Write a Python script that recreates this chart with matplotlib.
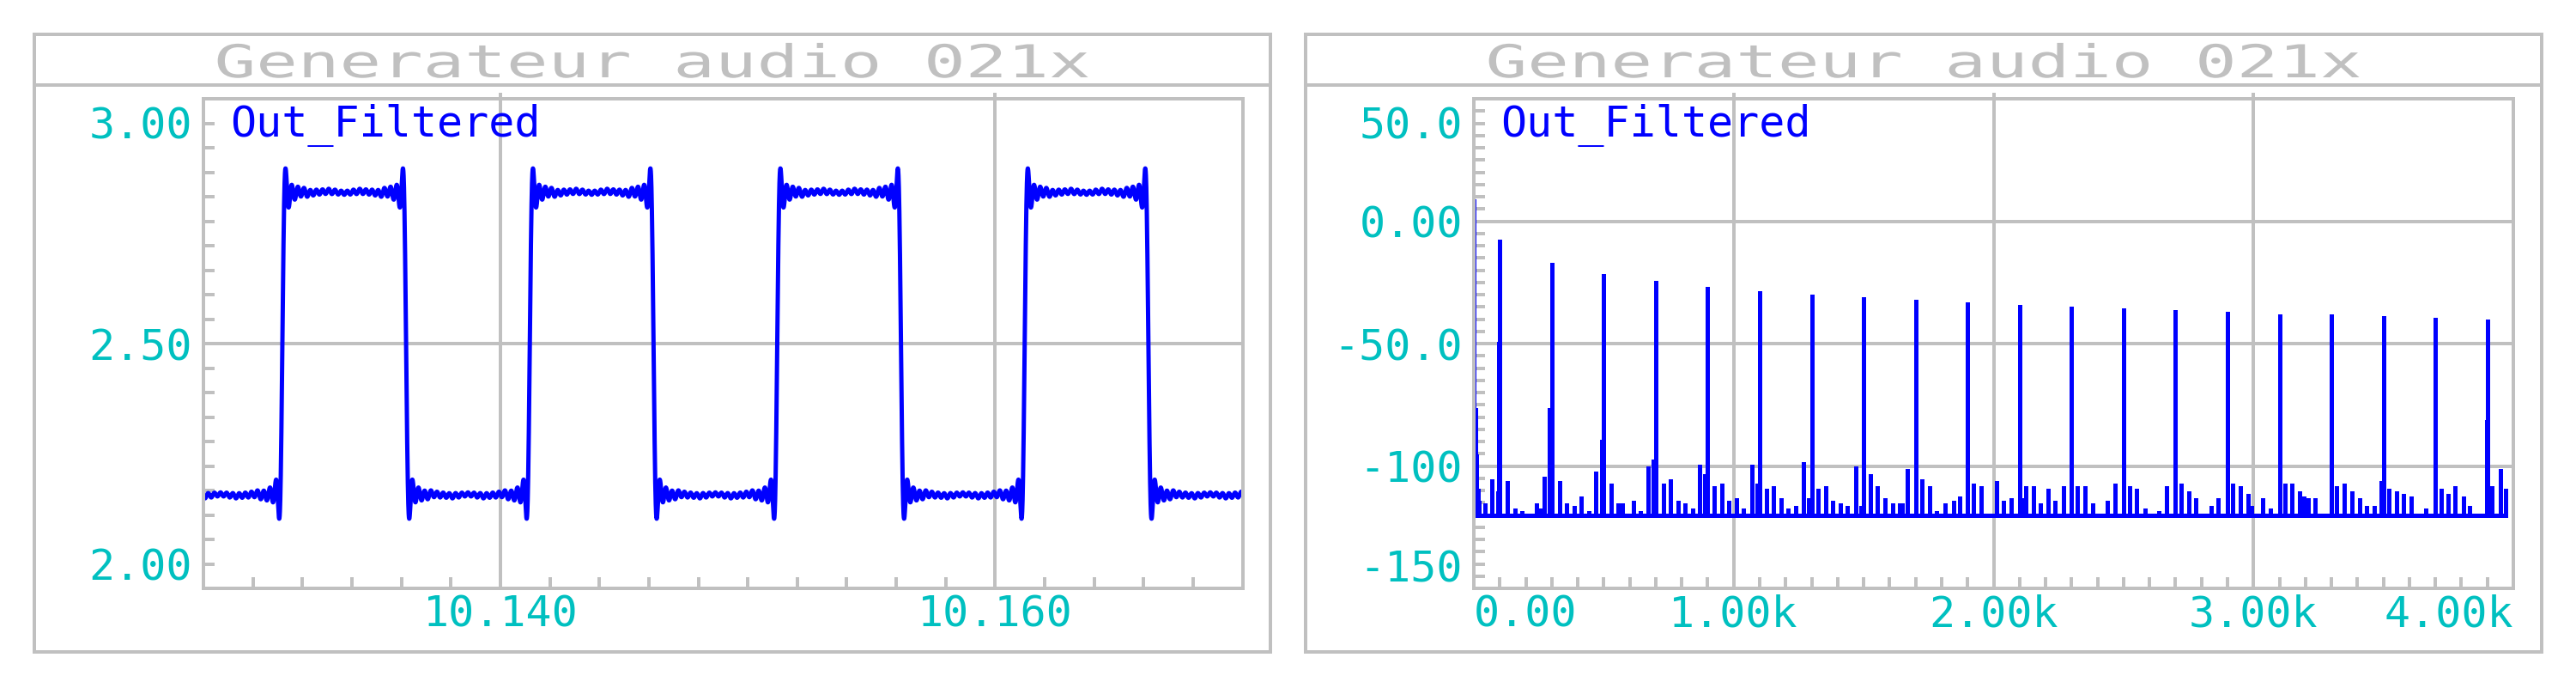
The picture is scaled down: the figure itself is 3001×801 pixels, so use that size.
import numpy as np
import matplotlib
matplotlib.use('Agg')
import matplotlib.pyplot as plt
from matplotlib.patches import Rectangle
from matplotlib.lines import Line2D
from matplotlib.ticker import MultipleLocator
from matplotlib.transforms import Affine2D, ScaledTranslation
from matplotlib.patheffects import AbstractPathEffect

# --- figure geometry (pixels) ---
W, H, DPI = 3001, 801, 100
GRAY = '#c0c0c0'
CYAN = '#00c0c0'
BLUE = '#0000ff'
FONT = 'DejaVu Sans Mono'

title_text = 'Generateur audio 021x'
trace_name = 'Out_Filtered'

# --- time domain view (left) ---
t_lim = (10.128, 10.170)          # s
v_lim = (2.0, 3.0)                # V
t_ticks = [10.140, 10.160]
t_labels = ['10.140', '10.160']
v_ticks = [2.0, 2.5, 3.0]
v_labels = ['2.00', '2.50', '3.00']
v_mid = 2.50                      # midline of the square wave
t_rise = 10.13119                 # first rising edge in view

# --- spectrum view (right) ---
f_lim = (0, 4000)                 # Hz
db_lim = (-150, 50)
f_ticks = [0, 1000, 2000, 3000, 4000]
f_labels = ['0.00', '1.00k', '2.00k', '3.00k', '4.00k']
db_ticks = [-150, -100, -50, 0, 50]
db_labels = ['-150', '-100', '-50.0', '0.00', '50.0']

dc_db = 8.2
harm_freq_hz = [100, 300, 500, 700, 900, 1100, 1300, 1500, 1700, 1900,
                2100, 2300, 2500, 2700, 2900, 3100, 3300, 3500, 3700, 3900]
harm_db = [-8.1, -17.7, -22.2, -25.0, -27.5, -29.2, -30.6, -31.7, -32.7, -33.8,
           -34.8, -35.5, -36.2, -36.9, -37.6, -38.6, -38.9, -39.6, -40.3, -40.9]

noise_freq_hz = [5, 11, 15, 20, 42, 69, 91, 96, 130, 158, 185, 240, 253, 270, 292,
                 330, 356, 386, 412, 443, 468, 492, 527, 556, 571, 613, 641, 669, 690,
                 729, 755, 785, 811, 841, 868, 890, 926, 956, 982, 1012, 1038, 1071,
                 1091, 1127, 1153, 1182, 1210, 1240, 1269, 1289, 1323,
                 1355, 1380, 1410, 1437, 1470, 1490, 1525, 1552, 1582, 1612, 1638,
                 1649, 1668, 1724, 1754, 1781, 1813, 1846, 1869, 1924, 1952, 2010,
                 2037, 2067, 2109, 2123, 2152, 2180, 2211, 2236, 2268, 2323, 2351,
                 2383, 2437, 2466, 2522, 2550, 2582, 2637, 2665,
                 2723, 2751, 2779, 2838, 2864, 2921, 2950, 2980, 2993, 3036, 3066,
                 3122, 3148, 3178, 3195, 3209, 3237, 3321, 3349, 3379, 3408, 3435,
                 3466, 3491, 3520, 3550, 3576, 3606, 3662, 3721, 3748, 3777, 3807,
                 3833, 3897, 3919, 3949, 3970]
noise_db = [-77, -96, -110, -115, -116, -106, -111, -50, -107, -118, -119, -116, -118, -105, -77,
            -107, -116, -117, -113, -119, -103, -90, -108, -116, -116, -115, -119, -101, -98,
            -108, -106, -115, -116, -118, -100, -104, -109, -108, -115, -114, -118, -100,
            -108, -110, -109, -114, -118, -117, -99, -114, -110,
            -109, -115, -116, -117, -101, -117, -104, -109, -114, -116, -116,
            -116, -102, -106, -109, -119, -116, -115, -113, -108, -109, -107,
            -115, -114, -114, -109, -109, -116, -110, -115, -109, -109, -109,
            -116, -115, -108, -109, -110, -118, -119, -109,
            -108, -111, -114, -117, -114, -108, -109, -112, -117, -114, -118,
            -108, -108, -111, -113, -114, -114, -109, -108, -111, -114, -117,
            -117, -107, -110, -111, -112, -113, -118, -110, -112, -109, -113,
            -117, -82, -109, -102, -110]
floor_db = -120.0
floor_end_hz = 3975


def pt(px):
    return px * 72.0 / DPI


class StretchX(AbstractPathEffect):
    """widen glyphs horizontally around their centre (plotter-font look)"""
    def __init__(self, sx):
        super().__init__()
        self._sx = sx

    def draw_path(self, renderer, gc, tpath, affine, rgbFace=None):
        bb = tpath.get_extents(affine)
        cx = 0.5 * (bb.x0 + bb.x1)
        st = Affine2D().translate(-cx, 0).scale(self._sx, 1).translate(cx, 0)
        renderer.draw_path(gc, tpath, affine + st, rgbFace)


fig = plt.figure(figsize=(W / DPI, H / DPI), dpi=DPI)
fig.patch.set_facecolor('white')


def fx(px):
    return px / W


def fy(px):
    return 1 - px / H


def make_panel(box_x0, ax_x0, ax_x1):
    box_w = 1440
    fig.add_artist(Rectangle((fx(box_x0), fy(759)), box_w / W, (759 - 40) / H,
                             transform=fig.transFigure, fill=False,
                             ec=GRAY, lw=pt(4), antialiased=False))
    fig.add_artist(Line2D([fx(box_x0), fx(box_x0 + box_w)], [fy(99), fy(99)],
                          transform=fig.transFigure, color=GRAY, lw=pt(4),
                          antialiased=False))
    fig.text(fx(box_x0 + box_w / 2), fy(90), title_text, ha='center',
             va='baseline', color=GRAY, fontsize=38, family=FONT,
             path_effects=[StretchX(1.53)])
    ax = fig.add_axes([fx(ax_x0), fy(685), (ax_x1 - ax_x0) / W, 570 / H])
    for s in ax.spines.values():
        s.set_color(GRAY)
        s.set_linewidth(pt(4))
        s.set_antialiased(False)
    ax.text(31 / (ax_x1 - ax_x0), (685 - 159) / 570, trace_name,
            transform=ax.transAxes, color=BLUE, fontsize=36, family=FONT,
            va='baseline', ha='left')
    return ax


def style_ticks(ax, xt, xl, yt, yl, xminor, yminor, top_shift, bot_shift):
    ax.set_xticks(xt, xl)
    ax.set_yticks(yt, yl)
    ax.xaxis.set_minor_locator(MultipleLocator(xminor))
    ax.yaxis.set_minor_locator(MultipleLocator(yminor))
    ax.tick_params(which='major', length=0, labelcolor=CYAN, labelsize=36)
    ax.tick_params(axis='x', which='major', pad=pt(6.5))
    ax.tick_params(axis='y', which='major', pad=pt(13))
    ax.tick_params(which='minor', direction='in', length=pt(13),
                   width=pt(4), color=GRAY)
    for lab in ax.get_xticklabels() + ax.get_yticklabels():
        lab.set_family(FONT)
    yt_objs = ax.yaxis.get_major_ticks()
    # labels at the frame edges are pulled inside, as in the original
    lo, hi = yt_objs[0].label1, yt_objs[-1].label1
    hi.set_transform(hi.get_transform() +
                     ScaledTranslation(0, -top_shift / DPI, fig.dpi_scale_trans))
    lo.set_transform(lo.get_transform() +
                     ScaledTranslation(0, bot_shift / DPI, fig.dpi_scale_trans))


def grid(ax, xs, ys):
    y0, y1 = ax.get_ylim()
    ext = (y1 - y0) * 7 / 570
    ax.vlines(xs, y0, y1 + ext, colors=GRAY, lw=pt(4), clip_on=False,
              zorder=1, antialiased=False)
    x0, x1 = ax.get_xlim()
    ax.hlines(ys, x0, x1, colors=GRAY, lw=pt(4), zorder=1, antialiased=False)


# ---------------- left: time domain ----------------
ax1 = make_panel(40, 237, 1447.7)
ax1.set_xlim(*t_lim)
ax1.set_ylim(*v_lim)
grid(ax1, [10.140, 10.160], [2.5])

# band-limited square wave rebuilt from the harmonic lines
t = np.arange(t_lim[0], t_lim[1], 5e-6)
v = np.full_like(t, v_mid)
for f, db in zip(harm_freq_hz, harm_db):
    v += 10 ** (db / 20.0) * np.sin(2 * np.pi * f * (t - t_rise))
ax1.plot(t, v, color=BLUE, lw=pt(5), zorder=2, solid_joinstyle='round')
style_ticks(ax1, t_ticks, t_labels, v_ticks, v_labels, 0.002, 0.05, 28, 29)

# ---------------- right: spectrum ----------------
ax2 = make_panel(1521, 1717, 2928)
ax2.set_xlim(*f_lim)
ax2.set_ylim(*db_lim)
grid(ax2, [1000, 2000, 3000], [0, -50, -100])

all_f = [0] + harm_freq_hz + noise_freq_hz
all_db = [dc_db] + harm_db + noise_db
ax2.vlines(all_f, floor_db, all_db, colors=BLUE, lw=pt(5), capstyle='round',
           zorder=2, antialiased=False)
ax2.hlines(floor_db, 0, floor_end_hz, colors=BLUE, lw=pt(5), zorder=2,
           antialiased=False)
style_ticks(ax2, f_ticks, f_labels, db_ticks, db_labels, 100, 5, 27, 27)
xl = ax2.xaxis.get_major_ticks()
xl[0].label1.set_ha('left')
xl[-1].label1.set_ha('right')

fig.savefig('out.png', dpi=DPI, facecolor='white')
